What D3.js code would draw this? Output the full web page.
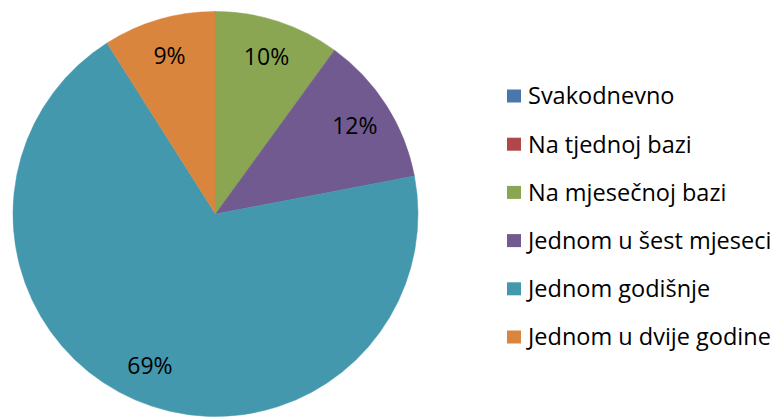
<!DOCTYPE html>
<html>
<head>
<meta charset="utf-8">
<script src="https://cdn.jsdelivr.net/npm/d3@7"></script>
<style>
  body { margin: 0; background: #fff; }
  text { font-family: "Open Sans", Lato, sans-serif; fill: #000; }
</style>
</head>
<body>
<svg id="svgPie"></svg>
<script>
// DATA ////////////////////////////////////////////////////////////////////////

var categories = ['Svakodnevno', 'Na tjednoj bazi', 'Na mjesečnoj bazi',
    'Jednom u šest mjeseci', 'Jednom godišnje', 'Jednom u dvije godine'];
var shares = [0, 0, 10, 12, 69, 9];
var labels = ['', '', '10%', '12%', '69%', '9%'];
var colours = ['#4a77ab', '#b0474a', '#8aa652', '#715a8f', '#4398ae', '#da853d'];

// SETUP ///////////////////////////////////////////////////////////////////////

const WIDTH = 773, HEIGHT = 419;
const CX = 215.5, CY = 214, R = 202.5;
const LABEL_R = 165;

var svg = d3.select('#svgPie')
    .attr('width', WIDTH)
    .attr('height', HEIGHT)

var pie_g = svg.append('g').attr('transform', 'translate(' + CX + ',' + CY + ')')

var pie = d3.pie().sort(null).value(function (d) { return d.value })
var arc = d3.arc().innerRadius(0).outerRadius(R)
var labelArc = d3.arc().innerRadius(LABEL_R).outerRadius(LABEL_R)

var pie_data = categories.map(function (c, i) {
    return { name: c, value: shares[i], label: labels[i], colour: colours[i] }
})

var colour = d3.scaleOrdinal().domain(categories).range(colours)

// slices
pie_g.selectAll('path')
    .data(pie(pie_data))
    .enter()
    .append('path')
    .attr('d', arc)
    .attr('fill', function (d) { return colour(d.data.name) })
    .attr('stroke', function (d) { return colour(d.data.name) })
    .attr('stroke-width', 0.5)

// percentage labels
pie_g.selectAll('text')
    .data(pie(pie_data).filter(function (d) { return d.value > 0 }))
    .enter()
    .append('text')
    .attr('transform', function (d) { return 'translate(' + labelArc.centroid(d) + ')' })
    .attr('dy', '0.36em')
    .style('text-anchor', 'middle')
    .style('font-size', '23px')
    .text(function (d) { return d.data.label })

// legend
var legend_y = d3.scalePoint().domain(categories).range([96, 337])

var legend = svg.append('g')
    .selectAll('g')
    .data(categories)
    .enter()
    .append('g')
    .attr('transform', function (d) { return 'translate(507,' + legend_y(d) + ')' })

legend.append('rect')
    .attr('x', 0)
    .attr('y', -6.5)
    .attr('width', 14)
    .attr('height', 13)
    .attr('fill', function (d) { return colour(d) })

legend.append('text')
    .attr('x', 21)
    .attr('dy', '0.36em')
    .style('font-size', '23.5px')
    .text(function (d) { return d })
</script>
</body>
</html>
